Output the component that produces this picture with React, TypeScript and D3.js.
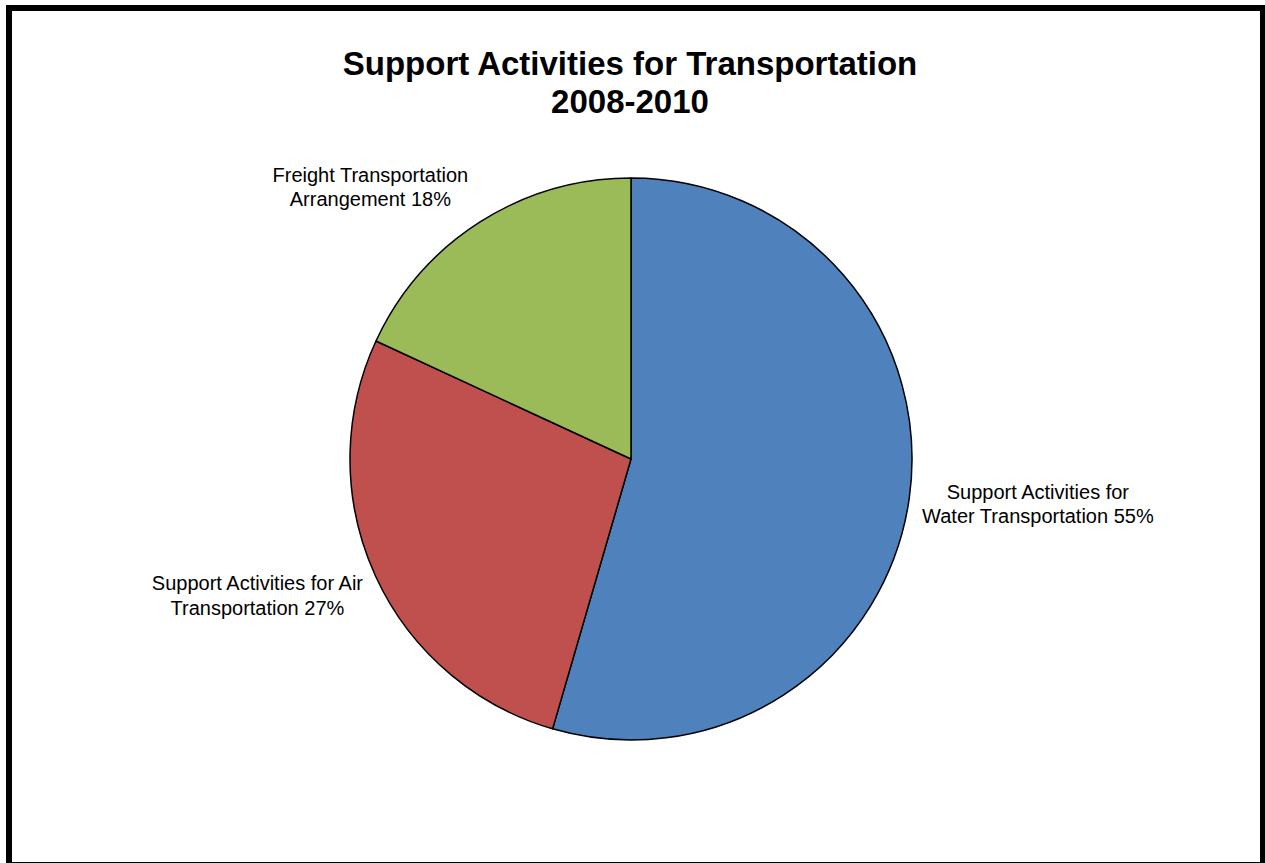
import React from "react";
import * as d3 from "d3";

const categories = [
  "Support Activities for Water Transportation",
  "Support Activities for Air Transportation",
  "Freight Transportation Arrangement",
];
const values = [54.5, 27.4, 18.1];
const labelLines = [
  ["Support Activities for", "Water Transportation"],
  ["Support Activities for Air", "Transportation"],
  ["Freight Transportation", "Arrangement"],
];
const colors = ["#4F81BD", "#C0504D", "#9BBB59"];
const titleLines = ["Support Activities for Transportation", "2008-2010"];

// layout constants
const W = 1265;
const H = 863;
const CX = 631;
const CY = 459;
const R = 281;
const LABEL_GAP = 14;
const LABEL_FONT = 20;
const LINE_H = 24.5;
const labelNudge = [
  [0, 0],
  [-8, 4],
  [-49, -3],
];

function textWidth(s: string, size: number) {
  // approximate Arial widths
  const ctx = (textWidth as any).ctx || ((textWidth as any).ctx = document.createElement("canvas").getContext("2d"));
  ctx.font = `${size}px "Liberation Sans", Arial, sans-serif`;
  return ctx.measureText(s).width;
}

export default function App() {
  const total = d3.sum(values);
  const pie = d3
    .pie<number>()
    .sort(null)
    .value((d) => d)
    .startAngle(0)
    .endAngle(2 * Math.PI);
  const arcs = pie(values);
  const arcGen = d3.arc<d3.PieArcDatum<number>>().innerRadius(0).outerRadius(R);

  return (
    <svg
      width={W}
      height={H}
      style={{ position: "absolute", left: 0, top: 0, display: "block", background: "#fff" }}
      fontFamily='"Liberation Sans", Arial, sans-serif'
    >
      <rect x={0} y={0} width={W} height={H} fill="#fff" />
      <rect x={9} y={8} width={1254} height={857} fill="none" stroke="#000" strokeWidth={6} />
      <text textAnchor="middle" fontWeight="bold" fontSize={33} fill="#000">
        <tspan x={630} y={75}>{titleLines[0]}</tspan>
        <tspan x={630} y={113}>{titleLines[1]}</tspan>
      </text>
      <g transform={`translate(${CX},${CY})`}>
        {arcs.map((a, i) => (
          <path key={categories[i]} d={arcGen(a) || ""} fill={colors[i]} stroke="#000" strokeWidth={1.5} strokeLinejoin="round" />
        ))}
      </g>
      {arcs.map((a, i) => {
        const mid = (a.startAngle + a.endAngle) / 2;
        const dx = Math.sin(mid);
        const dy = -Math.cos(mid);
        const px = CX + (R + LABEL_GAP) * dx;
        const py = CY + (R + LABEL_GAP) * dy;
        const pct = Math.round((values[i] / total) * 100) + "%";
        const lines = [labelLines[i][0], labelLines[i][1] + " " + pct];
        const w = Math.max(...lines.map((l) => textWidth(l, LABEL_FONT)));
        const h = LINE_H * lines.length;
        const cx = px + dx * (w / 2) + labelNudge[i][0];
        const cy = py + dy * (h / 2) + labelNudge[i][1];
        const firstBase = cy - h / 2 + LINE_H / 2 + LABEL_FONT * 0.35;
        return (
          <text key={"l" + i} textAnchor="middle" fontSize={LABEL_FONT} fill="#000">
            {lines.map((l, j) => (
              <tspan key={j} x={cx} y={firstBase + j * LINE_H}>
                {l}
              </tspan>
            ))}
          </text>
        );
      })}
    </svg>
  );
}
